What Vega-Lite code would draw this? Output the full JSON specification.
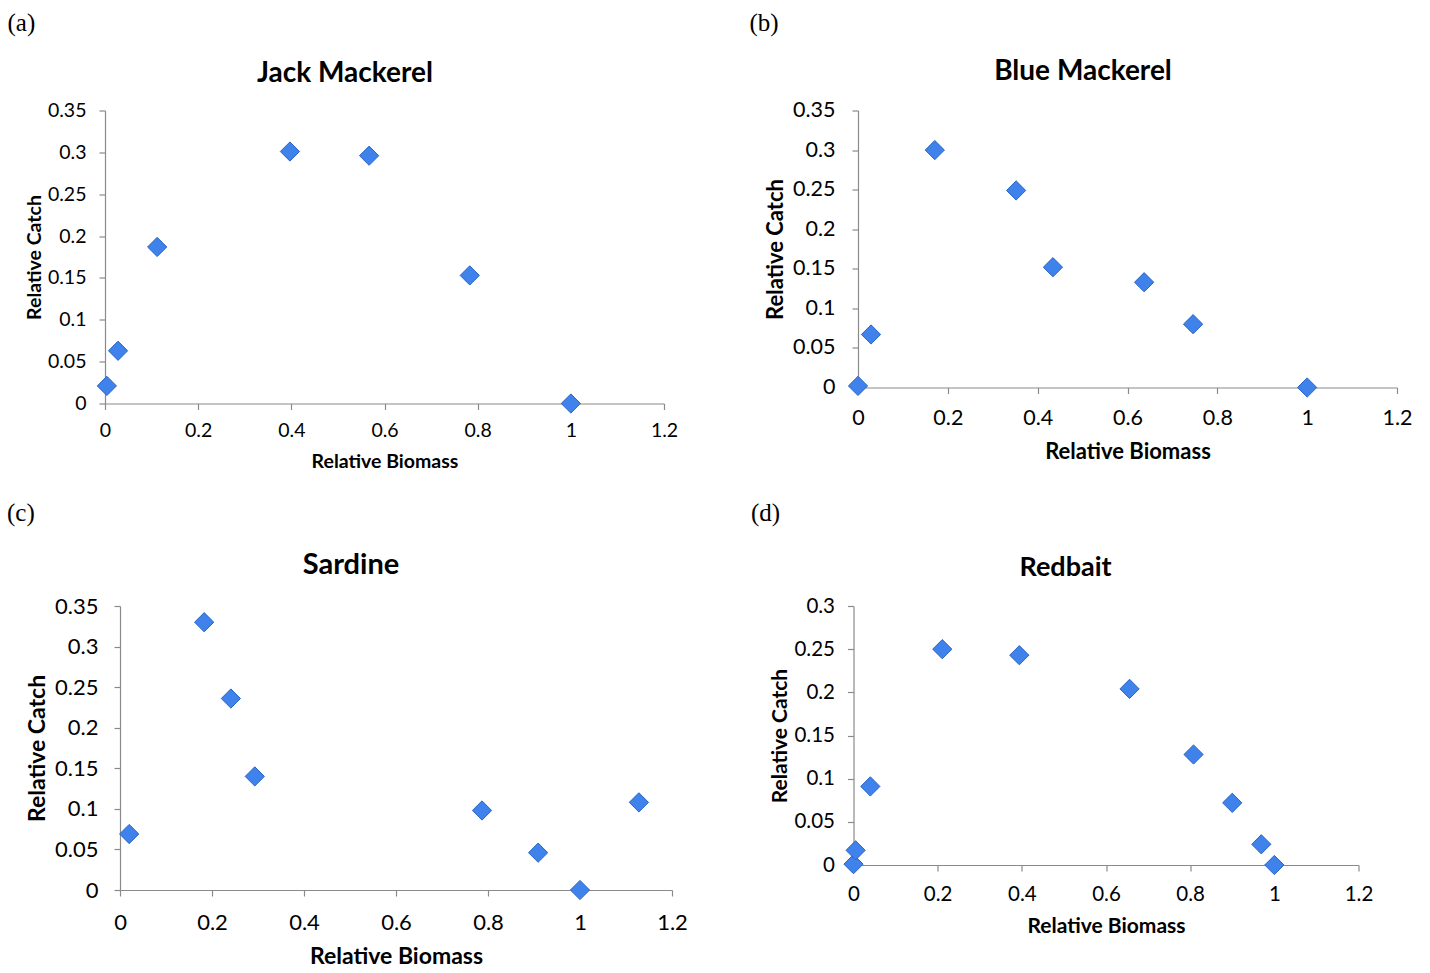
{
  "$schema": "https://vega.github.io/schema/vega-lite/v6.json",
  "padding": {"left": 6, "top": 10.5, "right": 0, "bottom": 0},
  "background": "white",
  "columns": 1,
  "spacing": 29.5,
  "datasets": {
    "jack": [
      {"biomass": 0.004, "catch": 0.021},
      {"biomass": 0.028, "catch": 0.063},
      {"biomass": 0.112, "catch": 0.187},
      {"biomass": 0.397, "catch": 0.301},
      {"biomass": 0.567, "catch": 0.296},
      {"biomass": 0.783, "catch": 0.153},
      {"biomass": 1.0, "catch": 0.0}
    ],
    "blue": [
      {"biomass": 0.0, "catch": 0.002},
      {"biomass": 0.029, "catch": 0.067},
      {"biomass": 0.171, "catch": 0.300},
      {"biomass": 0.352, "catch": 0.249},
      {"biomass": 0.434, "catch": 0.152},
      {"biomass": 0.637, "catch": 0.133},
      {"biomass": 0.746, "catch": 0.080},
      {"biomass": 1.0, "catch": 0.0}
    ],
    "sardine": [
      {"biomass": 0.020, "catch": 0.069},
      {"biomass": 0.183, "catch": 0.330},
      {"biomass": 0.241, "catch": 0.236},
      {"biomass": 0.293, "catch": 0.140},
      {"biomass": 0.787, "catch": 0.098},
      {"biomass": 0.909, "catch": 0.046},
      {"biomass": 1.0, "catch": 0.0},
      {"biomass": 1.128, "catch": 0.108}
    ],
    "redbait": [
      {"biomass": 0.0, "catch": 0.001},
      {"biomass": 0.005, "catch": 0.017},
      {"biomass": 0.040, "catch": 0.091},
      {"biomass": 0.211, "catch": 0.250},
      {"biomass": 0.394, "catch": 0.243},
      {"biomass": 0.656, "catch": 0.204},
      {"biomass": 0.808, "catch": 0.128},
      {"biomass": 0.900, "catch": 0.072},
      {"biomass": 0.969, "catch": 0.024},
      {"biomass": 1.0, "catch": 0.0}
    ]
  },
  "concat": [
    {
      "columns": 2,
      "spacing": 0,
      "concat": [
        {"width": 1, "height": 1, "data": {"values": []}, "mark": "rule", "encoding": {}},
        {
          "columns": 2,
          "spacing": 71,
          "concat": [
            {
              "title": {"text": "(a)", "anchor": "start", "frame": "bounds", "font": "Liberation Serif", "fontWeight": "normal", "fontSize": 25, "dx": -17, "offset": 24},
              "vconcat": [
                {
                  "title": {"text": "Jack Mackerel", "fontSize": 28, "dx": -39.5, "offset": 13},
                  "width": 559, "height": 293,
                  "data": {"name": "jack"},
                  "mark": {"type": "point", "shape": "diamond", "filled": true, "size": 370, "color": "#3F82EB", "stroke": "#2A64C4", "strokeWidth": 1, "opacity": 1},
                  "encoding": {
                    "x": {"field": "biomass", "type": "quantitative", "scale": {"domain": [0, 1.2], "nice": false, "zero": false},
                      "axis": {"values": [0, 0.2, 0.4, 0.6, 0.8, 1, 1.2], "format": "~g", "title": "Relative Biomass", "labelFontSize": 19.5, "titleFontSize": 19.5, "labelPadding": 12, "titlePadding": 12.5}},
                    "y": {"field": "catch", "type": "quantitative", "scale": {"domain": [0, 0.35], "nice": false, "zero": false},
                      "axis": {"values": [0, 0.05, 0.1, 0.15, 0.2, 0.25, 0.3, 0.35], "format": "~g", "title": "Relative Catch", "labelFontSize": 19.5, "titleFontSize": 19.5, "labelPadding": 13, "titlePadding": 3}}
                  }
                }
              ]
            },
            {
              "title": {"text": "(b)", "anchor": "start", "frame": "bounds", "font": "Liberation Serif", "fontWeight": "normal", "fontSize": 25, "dx": -15, "offset": 22},
              "vconcat": [
                {
                  "title": {"text": "Blue Mackerel", "fontSize": 28, "dx": -44.5, "offset": 14},
                  "width": 539, "height": 277,
                  "data": {"name": "blue"},
                  "mark": {"type": "point", "shape": "diamond", "filled": true, "size": 370, "color": "#3F82EB", "stroke": "#2A64C4", "strokeWidth": 1, "opacity": 1},
                  "encoding": {
                    "x": {"field": "biomass", "type": "quantitative", "scale": {"domain": [0, 1.2], "nice": false, "zero": false},
                      "axis": {"values": [0, 0.2, 0.4, 0.6, 0.8, 1, 1.2], "format": "~g", "title": "Relative Biomass", "labelFontSize": 21.5, "titleFontSize": 22, "labelPadding": 14, "titlePadding": 12.5}},
                    "y": {"field": "catch", "type": "quantitative", "scale": {"domain": [0, 0.35], "nice": false, "zero": false},
                      "axis": {"values": [0, 0.05, 0.1, 0.15, 0.2, 0.25, 0.3, 0.35], "format": "~g", "title": "Relative Catch", "labelFontSize": 21.5, "titleFontSize": 22, "labelPadding": 17, "titlePadding": 5}}
                  }
                }
              ]
            }
          ]
        }
      ]
    },
    {
      "columns": 2,
      "spacing": 0,
      "concat": [
        {"width": 1, "height": 1, "data": {"values": []}, "mark": "rule", "encoding": {}},
        {
          "columns": 2,
          "spacing": 62.5,
          "concat": [
            {
              "title": {"text": "(c)", "anchor": "start", "frame": "bounds", "font": "Liberation Serif", "fontWeight": "normal", "fontSize": 25, "dx": -19.5, "offset": 25},
              "vconcat": [
                {
                  "title": {"text": "Sardine", "fontSize": 29, "dx": -45, "offset": 15},
                  "width": 552, "height": 284,
                  "data": {"name": "sardine"},
                  "mark": {"type": "point", "shape": "diamond", "filled": true, "size": 370, "color": "#3F82EB", "stroke": "#2A64C4", "strokeWidth": 1, "opacity": 1},
                  "encoding": {
                    "x": {"field": "biomass", "type": "quantitative", "scale": {"domain": [0, 1.2], "nice": false, "zero": false},
                      "axis": {"values": [0, 0.2, 0.4, 0.6, 0.8, 1, 1.2], "format": "~g", "title": "Relative Biomass", "labelFontSize": 22, "titleFontSize": 23, "labelPadding": 16, "titlePadding": 12.5}},
                    "y": {"field": "catch", "type": "quantitative", "scale": {"domain": [0, 0.35], "nice": false, "zero": false},
                      "axis": {"values": [0, 0.05, 0.1, 0.15, 0.2, 0.25, 0.3, 0.35], "format": "~g", "title": "Relative Catch", "labelFontSize": 22, "titleFontSize": 23, "labelPadding": 16, "titlePadding": 5}}
                  }
                }
              ]
            },
            {
              "title": {"text": "(d)", "anchor": "start", "frame": "bounds", "font": "Liberation Serif", "fontWeight": "normal", "fontSize": 25, "dx": -19, "offset": 28},
              "vconcat": [
                {
                  "title": {"text": "Redbait", "fontSize": 27, "dx": -40.5, "offset": 14},
                  "width": 505, "height": 259,
                  "data": {"name": "redbait"},
                  "mark": {"type": "point", "shape": "diamond", "filled": true, "size": 370, "color": "#3F82EB", "stroke": "#2A64C4", "strokeWidth": 1, "opacity": 1},
                  "encoding": {
                    "x": {"field": "biomass", "type": "quantitative", "scale": {"domain": [0, 1.2], "nice": false, "zero": false},
                      "axis": {"values": [0, 0.2, 0.4, 0.6, 0.8, 1, 1.2], "format": "~g", "title": "Relative Biomass", "labelFontSize": 20.5, "titleFontSize": 21, "labelPadding": 13, "titlePadding": 10.5}},
                    "y": {"field": "catch", "type": "quantitative", "scale": {"domain": [0, 0.3], "nice": false, "zero": false},
                      "axis": {"values": [0, 0.05, 0.1, 0.15, 0.2, 0.25, 0.3], "format": "~g", "title": "Relative Catch", "labelFontSize": 20.5, "titleFontSize": 21, "labelPadding": 13, "titlePadding": 3}}
                  }
                }
              ]
            }
          ]
        }
      ]
    }
  ],
  "config": {
    "view": {"stroke": null},
    "axis": {"domainColor": "#8a8a8a", "tickColor": "#8a8a8a", "tickSize": 6, "domainWidth": 1.2, "tickWidth": 1.2, "grid": false, "labelFont": "Lato", "titleFont": "Lato", "labelColor": "#000000", "titleColor": "#000000", "titleFontWeight": "bold", "labelFlush": false, "labelOverlap": false},
    "title": {"font": "Lato", "fontWeight": "bold", "color": "#000000", "anchor": "middle"}
  }
}
